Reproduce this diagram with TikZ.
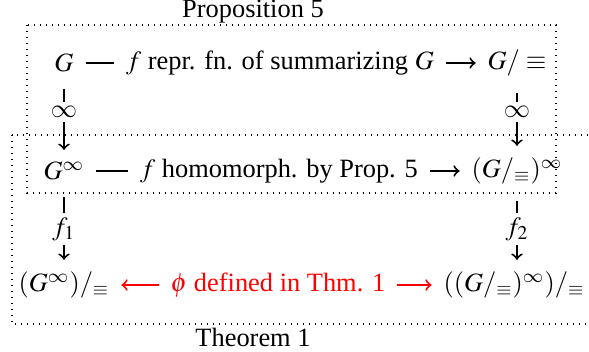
\documentclass[tikz,border=0pt]{standalone}
\usepackage{mathptmx}
\DeclareSymbolFont{cmsymbols}{OMS}{cmsy}{m}{n}
\DeclareMathSymbol{\cminfty}{\mathord}{cmsymbols}{"31}
\usepackage{fontspec}
\setmainfont{Liberation Serif}
\tikzset{
  obj/.style={inner sep=3pt, outer sep=2pt},
  lab/.style={inner sep=3pt, outer sep=2pt},
  vlab/.style={inner sep=1.5pt, outer sep=0.5pt},
  conn/.style={thick},
  redconn/.style={thick, red},
  region/.style={dotted, line width=0.5pt}
}
\begin{document}
\begin{tikzpicture}[x=0.4167pt, y=-0.4167pt, font=\fontsize{11}{13.2}\selectfont]
\useasboundingbox (0,0) rectangle (589,351);
% regions
\draw[region] (27,25) rectangle (556,193);
\draw[region] (12,135) rectangle (600,324);
\node (prop) at (253,12) {Proposition 5};
\node (thm) at (253,337) {Theorem 1};
% objects
\node[obj] (G) at (64,63) {$G$};
\node[obj] (Gq) at (517,63) {$G/\equiv$};
\node[obj] (Ginf) at (64,171) {$G^\cminfty$};
\node[obj] (Gqinf) at (517,171) {$(G/_\equiv)^\cminfty$};
\node[obj] (Ginfq) at (64,285) {$(G^\cminfty)/_\equiv$};
\node[obj] (Gqinfq) at (514,285) {$((G/_\equiv)^\cminfty)/_\equiv$};
% edge labels
\node[lab] (l1) at (280,63) {$f$ repr. fn. of summarizing $G$};
\node[lab] (l2) at (279,171) {$f$ homomorph. by Prop. 5};
\node[lab, text=red] (l3) at (278,285) {$\phi$ defined in Thm. 1};
\node[vlab] (v1) at (64,112) {$\cminfty$};
\node[vlab] (v2) at (517,112) {$\cminfty$};
\node[vlab] (v3) at (64,229) {$f_1$};
\node[vlab] (v4) at (517,229) {$f_2$};
% connectors
\draw[conn] (G) -- (l1);
\draw[conn,->] (l1) -- (Gq);
\draw[conn] (Ginf) -- (l2);
\draw[conn,->] (l2) -- (Gqinf);
\draw[redconn,->] (l3) -- (Ginfq);
\draw[redconn,->] (l3) -- (Gqinfq);
\draw[conn, shorten <=2pt] (G) -- (v1);
\draw[conn,->] (v1) -- (Ginf);
\draw[conn, shorten <=2pt] (Gq) -- (v2);
\draw[conn,->] (v2) -- (Gqinf);
\draw[conn, shorten <=2pt] (Ginf) -- (v3);
\draw[conn,->] (v3) -- (Ginfq);
\draw[conn, shorten <=2pt] (Gqinf.south -| v4) -- (v4);
\draw[conn,->] (v4) -- (Gqinfq.north -| v4);
\end{tikzpicture}
\end{document}
